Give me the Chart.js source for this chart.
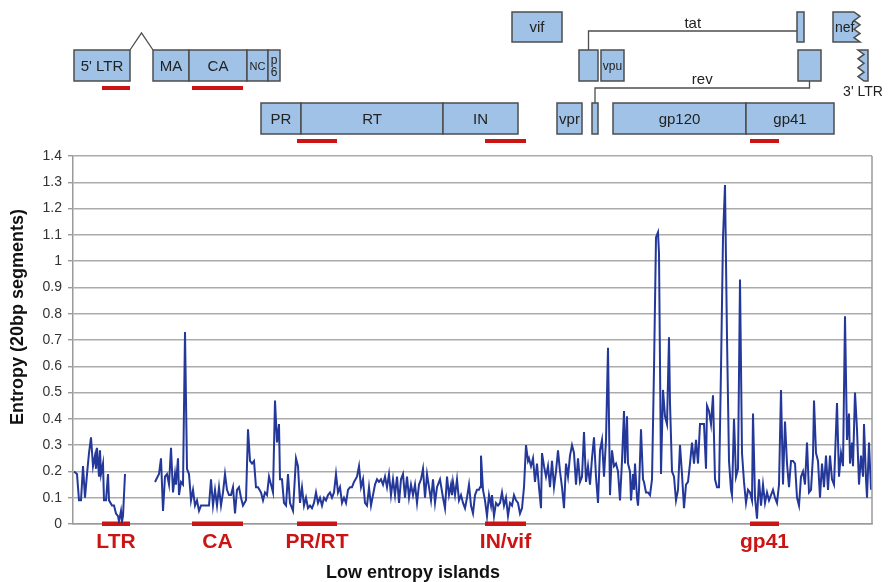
<!DOCTYPE html>
<html>
<head>
<meta charset="utf-8">
<script src="https://cdn.jsdelivr.net/npm/chart.js@4/dist/chart.umd.min.js"></script>
<style>
  html, body { margin: 0; padding: 0; background: #fff; }
</style>
</head>
<body>
<canvas id="chart" width="894" height="582"></canvas>
<script>
// genome position (plot units) and entropy of each 20bp segment; null = no data
const position = [
  1, 4, 6, 8, 10, 12, 14, 16, 18, 20, 22, 23, 24, 26, 27, 28, 30, 31, 33, 35, 36, 39, 41, 43, 45, 46, 48, 49, 50, 52,
  66,
  82, 86, 88, 90, 92, 94, 96, 98, 100, 102, 103, 105, 106, 108, 110, 112, 114, 116, 118, 120, 122, 124, 126, 128, 130,
  134, 136, 138, 140, 142, 144, 146, 148, 150, 152, 154, 156, 158, 160, 162, 164, 166, 168, 170, 173, 175, 177, 179,
  181, 183, 185, 188, 190, 192, 194, 196, 198, 200, 202, 204, 206, 207, 209, 211, 213, 215,
  217, 220, 223, 225, 227, 229, 231, 233, 235, 237, 239, 241, 243, 245, 247, 249, 251, 253, 255, 257, 259, 261, 263,
  265, 267, 269, 271, 273, 275, 277, 279, 281, 284, 286, 288, 290, 292, 294, 296, 298, 300, 302, 304, 306, 308, 310,
  312, 314, 316, 318, 320, 322, 324, 326, 328, 330, 332, 334, 336, 338, 340, 342, 344, 346, 348, 350, 352, 354, 356,
  358, 360, 362, 364,
  367, 370, 372, 374, 376, 378, 379, 380, 382, 384, 386, 388, 390, 392, 394, 396, 398, 400, 402, 404, 406, 407, 408,
  410, 412, 414, 416, 418, 419, 421, 423, 425, 427, 429, 431, 433, 435, 437, 439, 441, 443, 445, 447, 449, 451, 453,
  455, 456, 458, 460, 462, 464, 466, 468, 469, 471, 473, 475, 477, 479, 481, 483, 485, 487, 489, 491, 493, 495, 497,
  499, 501, 503, 505, 507, 509, 511, 513, 515, 517, 519, 521, 523, 525, 527, 529, 531, 533, 535, 537, 539, 541, 543,
  545, 547, 549, 551, 552, 554, 555, 557, 558, 560, 561, 562, 564, 565, 566, 568, 570, 571, 573, 575, 577, 579, 581,
  583, 585, 586, 588, 590, 592, 594, 596, 597, 599, 601, 603, 605, 607, 609, 611, 613, 615, 617, 619, 621, 623, 625,
  627, 629, 631, 633, 634, 636, 638, 640, 642, 644, 646, 648, 650, 652, 654, 656, 658, 659, 661, 663, 665, 667, 669,
  671, 673, 675, 677, 679, 680, 682, 684, 686,
  688, 690, 692, 694, 696, 698, 700, 702, 704, 706, 708, 710, 712, 714, 716, 718, 720, 722, 724, 726, 728, 730, 732,
  734, 736, 738, 740, 741, 743, 745, 747, 749, 751, 753, 755, 757, 759, 761, 764, 766, 768, 770, 772, 774, 776, 777,
  779, 780, 782, 784, 786, 788, 790, 791, 793, 794, 796, 798
];
const entropy = [
  .20, .19, .09, .09, .22, .10, .19, .27, .33, .22, .26, .21, .29, .18, .28, .19, .23, .09, .09, .19, .09, .07, .07, .04, .03, .01, .05, .01, .03, .19,
  null,
  .16, .19, .25, .05, .18, .19, .15, .29, .12, .19, .15, .25, .11, .16, .15, .73, .21, .19, .09, .13, .07, .09, .05, .07, .07,
  .07, .07, .17, .07, .13, .07, .14, .07, .12, .19, .13, .11, .11, .14, .04, .13, .14, .10, .07, .09, .36, .24, .23,
  .24, .14, .14, .12, .09, .12, .11, .18, .15, .12, .47, .31, .38, .17, .17, .08, .07, .19,
  .08, .05, .25, .22, .08, .14, .07, .10, .06, .07, .06, .08, .12, .08, .10, .07, .10, .09, .11, .12, .10, .12, .19,
  .12, .14, .08, .10, .08, .13, .14, .14, .16, .18, .22, .14, .17, .08, .07, .14, .07, .11, .15, .17, .16, .17, .15,
  .18, .14, .19, .11, .17, .11, .18, .08, .17, .19, .10, .18, .10, .15, .11, .15, .08, .15, .17, .21, .10, .19, .14,
  .09, .17, .08, .14,
  .17, .10, .06, .18, .11, .15, .11, .16, .11, .17, .09, .11, .08, .06, .10, .15, .07, .04, .11, .13, .13, .14, .26,
  .13, .09, .03, .11, .07, .11, .03, .08, .07, .08, .12, .07, .10, .03, .08, .07, .11, .09, .08, .04, .06, .14, .30,
  .24, .25, .22, .25, .16, .23, .14, .06, .27, .22, .18, .22, .14, .24, .14, .20, .28, .20, .14, .06, .23, .18, .26,
  .30, .27, .15, .25, .16, .18, .35, .16, .22, .15, .25, .33, .18, .08, .28, .32, .18, .32, .67, .11, .28, .22, .23,
  .20, .09, .24, .43, .23, .41, .23, .20, .09, .19, .13, .23, .10, .07, .13, .36, .17, .16, .12, .12, .11, .17, .59,
  1.09, 1.11, 1.03, .19, .51, .41, .38, .71, .46, .20, .18, .09, .13, .30, .19, .06, .15, .16, .23, .31, .23, .32, .23,
  .38, .38, .38, .21, .45, .43, .38, .49, .17, .14, .14, .59, 1.09, 1.29, .71, .24, .13, .11, .40, .18, .21, .93, .27,
  .16, .08, .13, .12, .09, .42, .10, .02, .17,
  .07, .15, .08, .12, .09, .11, .13, .10, .08, .15, .51, .15, .39, .23, .14, .24, .24, .23, .10, .07, .18, .20, .15,
  .31, .12, .13, .26, .47, .27, .24, .10, .23, .14, .26, .13, .26, .17, .15, .46, .18, .27, .22, .79, .32, .42, .23,
  .31, .22, .50, .36, .15, .26, .18, .38, .17, .10, .31, .13
];

// low entropy islands (plot units)
const islandNames = ['LTR', 'CA', 'PR/RT', 'IN/vif', 'gp41'];
const islandStart = [29, 119, 224, 412, 677];
const islandEnd = [57, 170, 264, 453, 706];

// HIV genome map (plot units)
const geneNames = ["5' LTR", 'MA', 'CA', 'NC', 'p6', 'PR', 'RT', 'IN', 'vif', 'vpr', 'tat', 'vpu', 'rev',
  'gp120', 'gp41', 'tat', 'rev', 'nef', "3' LTR"];
const geneStart = [1, 80, 116, 174, 195, 188, 228, 370, 439, 484, 506, 528, 519, 540, 673, 724, 725, 760, 785];
const geneEnd = [57, 116, 174, 195, 207, 228, 370, 445, 489, 509, 525, 551, 525, 673, 761, 731, 748, 787, 795];

// drawing layout for the map
const geneRow = [1, 1, 1, 1, 1, 2, 2, 2, 0, 2, 1, 1, 2, 2, 2, 0, 1, 0, 1];
const rowTop = [12, 50, 103];
const rowHeight = [30, 31, 31];
const islandRow = [1, 1, 2, 2, 2];

const FONT = '"Liberation Sans", Arial, sans-serif';
const boxFill = '#9fc2e6';
const boxLine = '#4d4d4d';
const red = '#cc1414';

const genomeMap = {
  id: 'genomeMap',
  beforeDatasetsDraw(chart) {
    const ctx = chart.ctx, x = chart.scales.x;
    ctx.save();
    ctx.fillStyle = red;
    islandNames.forEach((n, i) => {
      const a = x.getPixelForValue(islandStart[i]), b = x.getPixelForValue(islandEnd[i]);
      ctx.fillRect(a, chart.chartArea.bottom - 2.5, b - a, 4.5);
    });
    ctx.restore();
  },
  afterDraw(chart) {
    const ctx = chart.ctx, x = chart.scales.x, area = chart.chartArea;
    const px = v => x.getPixelForValue(v);
    ctx.save();

    // right frame line
    ctx.strokeStyle = '#9a9a9a';
    ctx.lineWidth = 1.5;
    ctx.beginPath();
    ctx.moveTo(area.right, area.top);
    ctx.lineTo(area.right, area.bottom);
    ctx.stroke();

    // island labels below the axis
    ctx.fillStyle = red;
    ctx.font = 'bold 21px ' + FONT;
    ctx.textAlign = 'center';
    ctx.textBaseline = 'middle';
    islandNames.forEach((n, i) => {
      ctx.fillText(n, (px(islandStart[i]) + px(islandEnd[i])) / 2, 542);
    });

    // axis titles
    ctx.fillStyle = '#111';
    ctx.font = 'bold 18px ' + FONT;
    ctx.fillText('Low entropy islands', 413, 573);
    ctx.save();
    ctx.translate(18, 317);
    ctx.rotate(-Math.PI / 2);
    ctx.font = 'bold 18px ' + FONT;
    ctx.fillText('Entropy (20bp segments)', 0, 0);
    ctx.restore();

    // gene boxes
    ctx.lineWidth = 1.5;
    ctx.strokeStyle = boxLine;
    geneNames.forEach((n, i) => {
      const a = px(geneStart[i]), b = px(geneEnd[i]);
      const t = rowTop[geneRow[i]], h = rowHeight[geneRow[i]];
      ctx.fillStyle = boxFill;
      ctx.beginPath();
      if (n === 'nef') {
        const z = b - 6;
        ctx.moveTo(a, t); ctx.lineTo(z, t);
        for (let k = 1; k <= 7; k++) ctx.lineTo(k % 2 ? b : z, t + k * h / 7);
        ctx.lineTo(a, t + h); ctx.closePath();
      } else if (n === "3' LTR") {
        const z = a + 6;
        ctx.moveTo(b, t); ctx.lineTo(a, t);
        for (let k = 1; k <= 7; k++) ctx.lineTo(k % 2 ? z : a, t + k * h / 7);
        ctx.lineTo(b, t + h); ctx.closePath();
      } else {
        ctx.rect(a, t, b - a, h);
      }
      ctx.fill();
      ctx.stroke();
    });

    // gene labels
    ctx.fillStyle = '#222';
    ctx.textBaseline = 'middle';
    geneNames.forEach((n, i) => {
      const a = px(geneStart[i]), b = px(geneEnd[i]);
      const t = rowTop[geneRow[i]], h = rowHeight[geneRow[i]];
      const cx = (a + b) / 2, cy = t + h / 2 + 1;
      if (n === 'tat' || n === 'rev') return;
      ctx.textAlign = 'center';
      if (n === "3' LTR") {
        ctx.font = '14px ' + FONT;
        ctx.fillText(n, cx, t + h + 11);
      } else if (n === 'p6') {
        ctx.font = '12px ' + FONT;
        ctx.fillText('p', cx, cy - 6);
        ctx.fillText('6', cx, cy + 6);
      } else if (n === 'NC') {
        ctx.font = '11px ' + FONT;
        ctx.fillText(n, cx, cy);
      } else if (n === 'vpu') {
        ctx.font = '12px ' + FONT;
        ctx.fillText(n, cx, cy);
      } else if (n === 'nef') {
        ctx.font = '14px ' + FONT;
        ctx.textAlign = 'left';
        ctx.fillText(n, a + 2, cy);
      } else {
        ctx.font = '15px ' + FONT;
        ctx.fillText(n, cx, cy);
      }
    });
    ctx.textAlign = 'center';

    // splice between 5' LTR and gag
    ctx.strokeStyle = boxLine;
    ctx.lineWidth = 1.3;
    const l0 = px(geneEnd[0]), m0 = px(geneStart[1]);
    ctx.beginPath();
    ctx.moveTo(l0, rowTop[1]);
    ctx.lineTo((l0 + m0) / 2, 33);
    ctx.lineTo(m0, rowTop[1]);
    ctx.stroke();

    // tat connector
    const tat1 = (px(geneStart[10]) + px(geneEnd[10])) / 2, tat2 = px(geneStart[15]);
    ctx.beginPath();
    ctx.moveTo(tat1, rowTop[1]);
    ctx.lineTo(tat1, 31);
    ctx.lineTo(tat2, 31);
    ctx.stroke();
    ctx.font = '15px ' + FONT;
    ctx.fillText('tat', (tat1 + tat2) / 2, 24);

    // rev connector
    const rev1 = (px(geneStart[12]) + px(geneEnd[12])) / 2, rev2 = (px(geneStart[16]) + px(geneEnd[16])) / 2;
    ctx.beginPath();
    ctx.moveTo(rev2, rowTop[1] + rowHeight[1]);
    ctx.lineTo(rev2, 88);
    ctx.lineTo(rev1, 88);
    ctx.lineTo(rev1, rowTop[2]);
    ctx.stroke();
    ctx.fillText('rev', (rev1 + rev2) / 2, 80);

    // island bars on the map
    ctx.fillStyle = red;
    islandNames.forEach((n, i) => {
      const a = px(islandStart[i]), b = px(islandEnd[i]);
      const r = islandRow[i];
      ctx.fillRect(a, rowTop[r] + rowHeight[r] + 5, b - a, 4);
    });

    ctx.restore();
  }
};

new Chart(document.getElementById('chart'), {
  type: 'line',
  data: {
    datasets: [{
      label: 'Entropy',
      data: position.map((p, i) => ({ x: p, y: entropy[i] })),
      borderColor: '#24389a',
      borderWidth: 2,
      pointRadius: 0,
      tension: 0,
      spanGaps: false
    }]
  },
  options: {
    responsive: false,
    animation: false,
    layout: { padding: { left: 0, top: 156, right: 22, bottom: 58 } },
    plugins: { legend: { display: false }, tooltip: { enabled: false } },
    scales: {
      x: {
        type: 'linear',
        min: 0,
        max: 799,
        ticks: { display: false },
        grid: { display: false },
        border: { display: true, color: '#9a9a9a', width: 1.5 },
        afterFit: s => { s.height = 0; }
      },
      y: {
        min: 0,
        max: 1.4,
        ticks: {
          stepSize: 0.1,
          padding: 6,
          color: '#333',
          font: { family: FONT, size: 14 },
          callback: v => String(+v.toFixed(1))
        },
        grid: { color: '#ababab', lineWidth: 1.4, tickLength: 5, tickColor: '#9a9a9a' },
        border: { display: true, color: '#9a9a9a', width: 1.5 },
        afterFit: s => { s.width = 73; }
      }
    }
  },
  plugins: [genomeMap]
});
</script>
</body>
</html>
